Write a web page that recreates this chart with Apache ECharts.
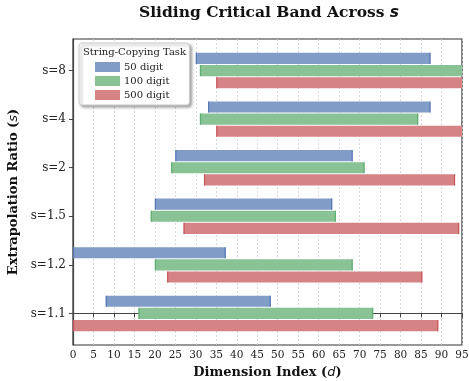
<!DOCTYPE html>
<html><head><meta charset="utf-8">
<script src="https://cdn.jsdelivr.net/npm/echarts@6/dist/echarts.min.js"></script>
<style>html,body{margin:0;padding:0;background:#fff}#c{width:469px;height:381px}</style>
</head><body><div id="c"></div>
<script>
const categories = ['s=1.1', 's=1.2', 's=1.5', 's=2', 's=4', 's=8'];
const seriesNames = ['50 digit', '100 digit', '500 digit'];
const start50 = [8, 0, 20, 25, 33, 30];
const end50 = [48.3, 37.3, 63.3, 68.3, 87.3, 87.3];
const start100 = [16, 20, 19, 24, 31, 31];
const end100 = [73.3, 68.3, 64.2, 71.2, 84.3, 97];
const start500 = [0, 23, 27, 32, 35, 35];
const end500 = [89.2, 85.3, 94.3, 93.3, 97, 97];
const xTicks = [0,5,10,15,20,25,30,35,40,45,50,55,60,65,70,75,80,85,90,95];

const starts = [start50, start100, start500];
const ends = [end50, end100, end500];
const fills = ['#829cc8', '#88c295', '#d68386'];
const edges = ['#4C72B0', '#55A868', '#C44E52'];
const offsets = [0.25, 0, -0.25];
const barH = 0.23;
const serif = '"DejaVu Serif", serif';

function makeRender(k) {
  return function (params, api) {
    const y = api.value(2) + offsets[k];
    const s = api.value(0), e = api.value(1);
    const p0 = api.coord([s, y]);
    const p1 = api.coord([e, y]);
    const h = api.size([0, barH])[1];
    const cs = params.coordSys;
    const box = {x: cs.x, y: cs.y, width: cs.width, height: cs.height};
    const rect = echarts.graphic.clipRectByRect({x: p0[0], y: p0[1] - h / 2, width: p1[0] - p0[0], height: h}, box);
    const children = [];
    if (rect) {
      children.push({type: 'rect', shape: rect, style: {fill: fills[k]}});
      if (p0[0] >= cs.x) children.push({type: 'line', shape: {x1: p0[0] + 0.5, y1: rect.y, x2: p0[0] + 0.5, y2: rect.y + rect.height}, style: {stroke: edges[k], lineWidth: 1.2, opacity: 0.85}});
      if (p1[0] <= cs.x + cs.width) children.push({type: 'line', shape: {x1: p1[0] - 0.5, y1: rect.y, x2: p1[0] - 0.5, y2: rect.y + rect.height}, style: {stroke: edges[k], lineWidth: 1.2, opacity: 0.85}});
    }
    return {type: 'group', children: children};
  };
}

const series = seriesNames.map((name, k) => ({
  type: 'custom',
  name: name,
  renderItem: makeRender(k),
  itemStyle: {color: fills[k]},
  encode: {x: [0, 1], y: 2},
  data: categories.map((c, i) => [starts[k][i], ends[k][i], i])
}));

const chart = echarts.init(document.getElementById('c'), null, {renderer: 'canvas'});
chart.setOption({
  animation: false,
  backgroundColor: '#fff',
  title: {
    text: '{b|Sliding Critical Band Across }{i|s}',
    left: 264, top: 0, textAlign: 'center',
    textStyle: {
      rich: {
        b: {fontFamily: serif, fontWeight: 'bold', fontSize: 15.5, color: '#111'},
        i: {fontFamily: '"DejaVu Sans", sans-serif', fontStyle: 'italic', fontSize: 15.5, color: '#111'}
      }
    }
  },
  grid: {left: 73, right: 7, top: 39, bottom: 36, show: true, borderColor: '#333', borderWidth: 1.2, backgroundColor: 'transparent', outerBoundsMode: 'none', containLabel: false},
  xAxis: {
    type: 'value', min: 0, max: 95, interval: 5,
    axisLine: {show: true, lineStyle: {color: '#444', width: 1.2}},
    axisTick: {show: true, length: 4, lineStyle: {color: '#444'}},
    axisLabel: {fontFamily: serif, fontSize: 10.5, color: '#222', margin: 5, customValues: xTicks},
    splitLine: {show: true, lineStyle: {color: '#d0d0d0', type: [2, 2], width: 0.8}},
    name: '{b|Dimension Index (}{i|d}{b|)}',
    nameLocation: 'middle', nameGap: 21,
    nameTextStyle: {
      rich: {
        b: {fontFamily: serif, fontWeight: 'bold', fontSize: 13, color: '#111'},
        i: {fontFamily: '"DejaVu Sans", sans-serif', fontStyle: 'italic', fontSize: 13, color: '#111'}
      }
    }
  },
  yAxis: {
    type: 'value', min: -0.65, max: 5.65,
    axisLine: {show: true, lineStyle: {color: '#444', width: 1.2}},
    axisTick: {show: true, length: 4, lineStyle: {color: '#444'}, customValues: [0,1,2,3,4,5]},
    axisLabel: {fontFamily: serif, fontSize: 12, color: '#222', margin: 7, customValues: [0,1,2,3,4,5],
      formatter: v => categories[Math.round(v)]},
    splitLine: {show: false},
    name: '{b|Extrapolation Ratio (}{i|s}{b|)}',
    nameLocation: 'middle', nameGap: 43, nameRotate: 90,
    nameTextStyle: {
      rich: {
        b: {fontFamily: serif, fontWeight: 'bold', fontSize: 13, color: '#111'},
        i: {fontFamily: '"DejaVu Sans", sans-serif', fontStyle: 'italic', fontSize: 13, color: '#111'}
      }
    }
  },
  legend: {
    data: seriesNames, orient: 'vertical', left: 79, top: 43,
    padding: [19, 20, 5, 16], itemWidth: 25, itemHeight: 10, itemGap: 4,
    icon: 'rect',
    textStyle: {fontFamily: serif, fontSize: 10, color: '#222', padding: [0, 0, 0, -1]},
    backgroundColor: '#fff', borderColor: '#ccc', borderWidth: 1, borderRadius: 3,
    shadowBlur: 3, shadowOffsetX: 2, shadowOffsetY: 2, shadowColor: 'rgba(0,0,0,0.35)'
  },
  graphic: [{
    type: 'text', left: 83, top: 47, z: 100,
    style: {text: 'String-Copying Task', fontFamily: serif, fontSize: 10, fill: '#222'}
  }],
  series: series
});
</script></body></html>
